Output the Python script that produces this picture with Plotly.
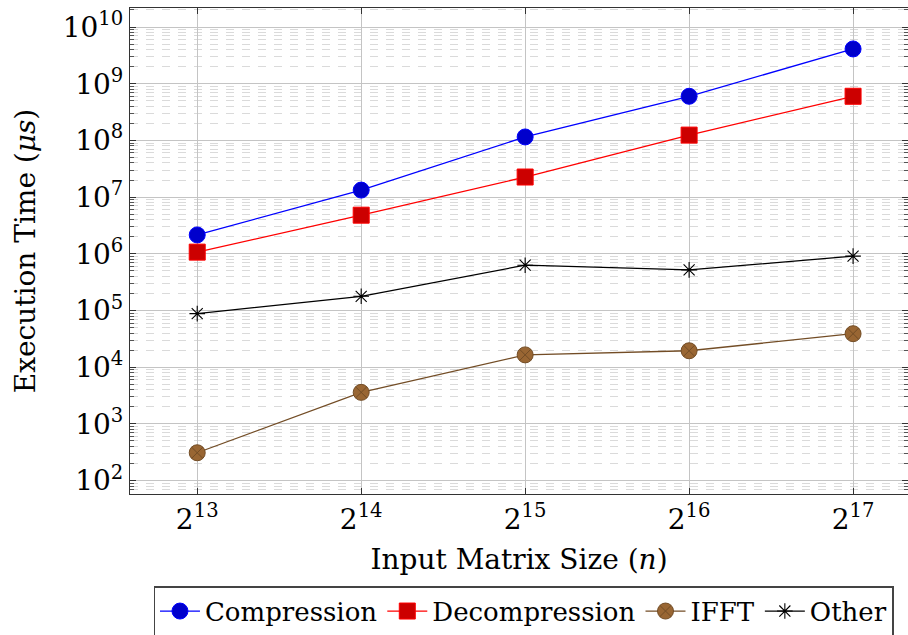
import math
import plotly.graph_objects as go

# ---- data ----
sizes = [8192, 16384, 32768, 65536, 131072]
size_labels = ["2<sup>13</sup>", "2<sup>14</sup>", "2<sup>15</sup>", "2<sup>16</sup>", "2<sup>17</sup>"]
compression = [2.15e6, 1.33e7, 1.15e8, 6.0e8, 4.1e9]
decompression = [1.07e6, 4.8e6, 2.26e7, 1.24e8, 6.0e8]
ifft = [310, 3.6e3, 1.65e4, 1.95e4, 3.9e4]
other = [8.8e4, 1.78e5, 6.3e5, 5.2e5, 9.1e5]
y_ticks = [1e2, 1e3, 1e4, 1e5, 1e6, 1e7, 1e8, 1e9, 1e10]
y_tick_labels = ["10<sup>%d</sup>" % k for k in range(2, 11)]

FONT = "DejaVu Serif"

fig = go.Figure()
fig.add_trace(go.Scatter(
    x=sizes, y=compression, name="Compression", mode="lines+markers",
    line=dict(color="#0000FF", width=1.3),
    marker=dict(symbol="circle", size=16, color="#0000CC", line=dict(color="#0000FF", width=1)),
))
fig.add_trace(go.Scatter(
    x=sizes, y=decompression, name="Decompression", mode="lines+markers",
    line=dict(color="#FF0000", width=1.3),
    marker=dict(symbol="square", size=16, color="#CC0000", line=dict(color="#FF0000", width=1)),
))
fig.add_trace(go.Scatter(
    x=sizes, y=ifft, name="IFFT", mode="lines+markers",
    line=dict(color="#734D26", width=1.3),
    marker=dict(symbol="circle-x", size=16, color="#996633", line=dict(color="#734D26", width=1)),
))
fig.add_trace(go.Scatter(
    x=sizes, y=other, name="Other", mode="lines+markers",
    line=dict(color="#000000", width=1.3),
    marker=dict(symbol="asterisk-open", size=13, color="#000000", line=dict(color="#000000", width=1.1)),
))

x_lo = math.log10(2 ** 12.59)
x_hi = math.log10(2 ** 17.335)

fig.update_layout(
    width=908, height=635,
    margin=dict(l=130, r=0, t=8, b=141, autoexpand=False),
    paper_bgcolor="white", plot_bgcolor="white",
    font=dict(family=FONT, size=28, color="#000000"),
    showlegend=True,
    legend=dict(
        orientation="h", x=0.506, xanchor="center", y=-0.19, yanchor="top",
        bordercolor="#444444", borderwidth=1.3, bgcolor="white",
        font=dict(family=FONT, size=26), itemwidth=40,
    ),
    xaxis=dict(
        type="log", range=[x_lo, x_hi],
        tickmode="array", tickvals=sizes, ticktext=size_labels,
        showgrid=True, gridcolor="#C4C4C4", gridwidth=1,
        showline=True, linecolor="#333333", linewidth=1.3, mirror="allticks",
        ticks="inside", ticklen=6, tickcolor="#333333",
        tickfont=dict(family=FONT, size=28),
        title=dict(text="Input Matrix Size (<i>n</i>)", font=dict(family=FONT, size=28), standoff=14),
        zeroline=False,
    ),
    yaxis=dict(
        type="log", range=[1.764, 10.335],
        tickmode="array", tickvals=y_ticks, ticktext=y_tick_labels,
        showgrid=True, gridcolor="#C4C4C4", gridwidth=1,
        showline=True, linecolor="#333333", linewidth=1.3, mirror="allticks",
        ticks="inside", ticklen=6, tickcolor="#333333",
        tickfont=dict(family=FONT, size=28),
        minor=dict(dtick="D1", showgrid=True, gridcolor="#DADADA", griddash="8px,8px",
                   gridwidth=1, ticks="inside", ticklen=4, tickcolor="#555555"),
        title=dict(text="Execution Time (<i>μs</i>)", font=dict(family=FONT, size=28), standoff=18),
        zeroline=False,
    ),
)

fig.write_html("out.html")
